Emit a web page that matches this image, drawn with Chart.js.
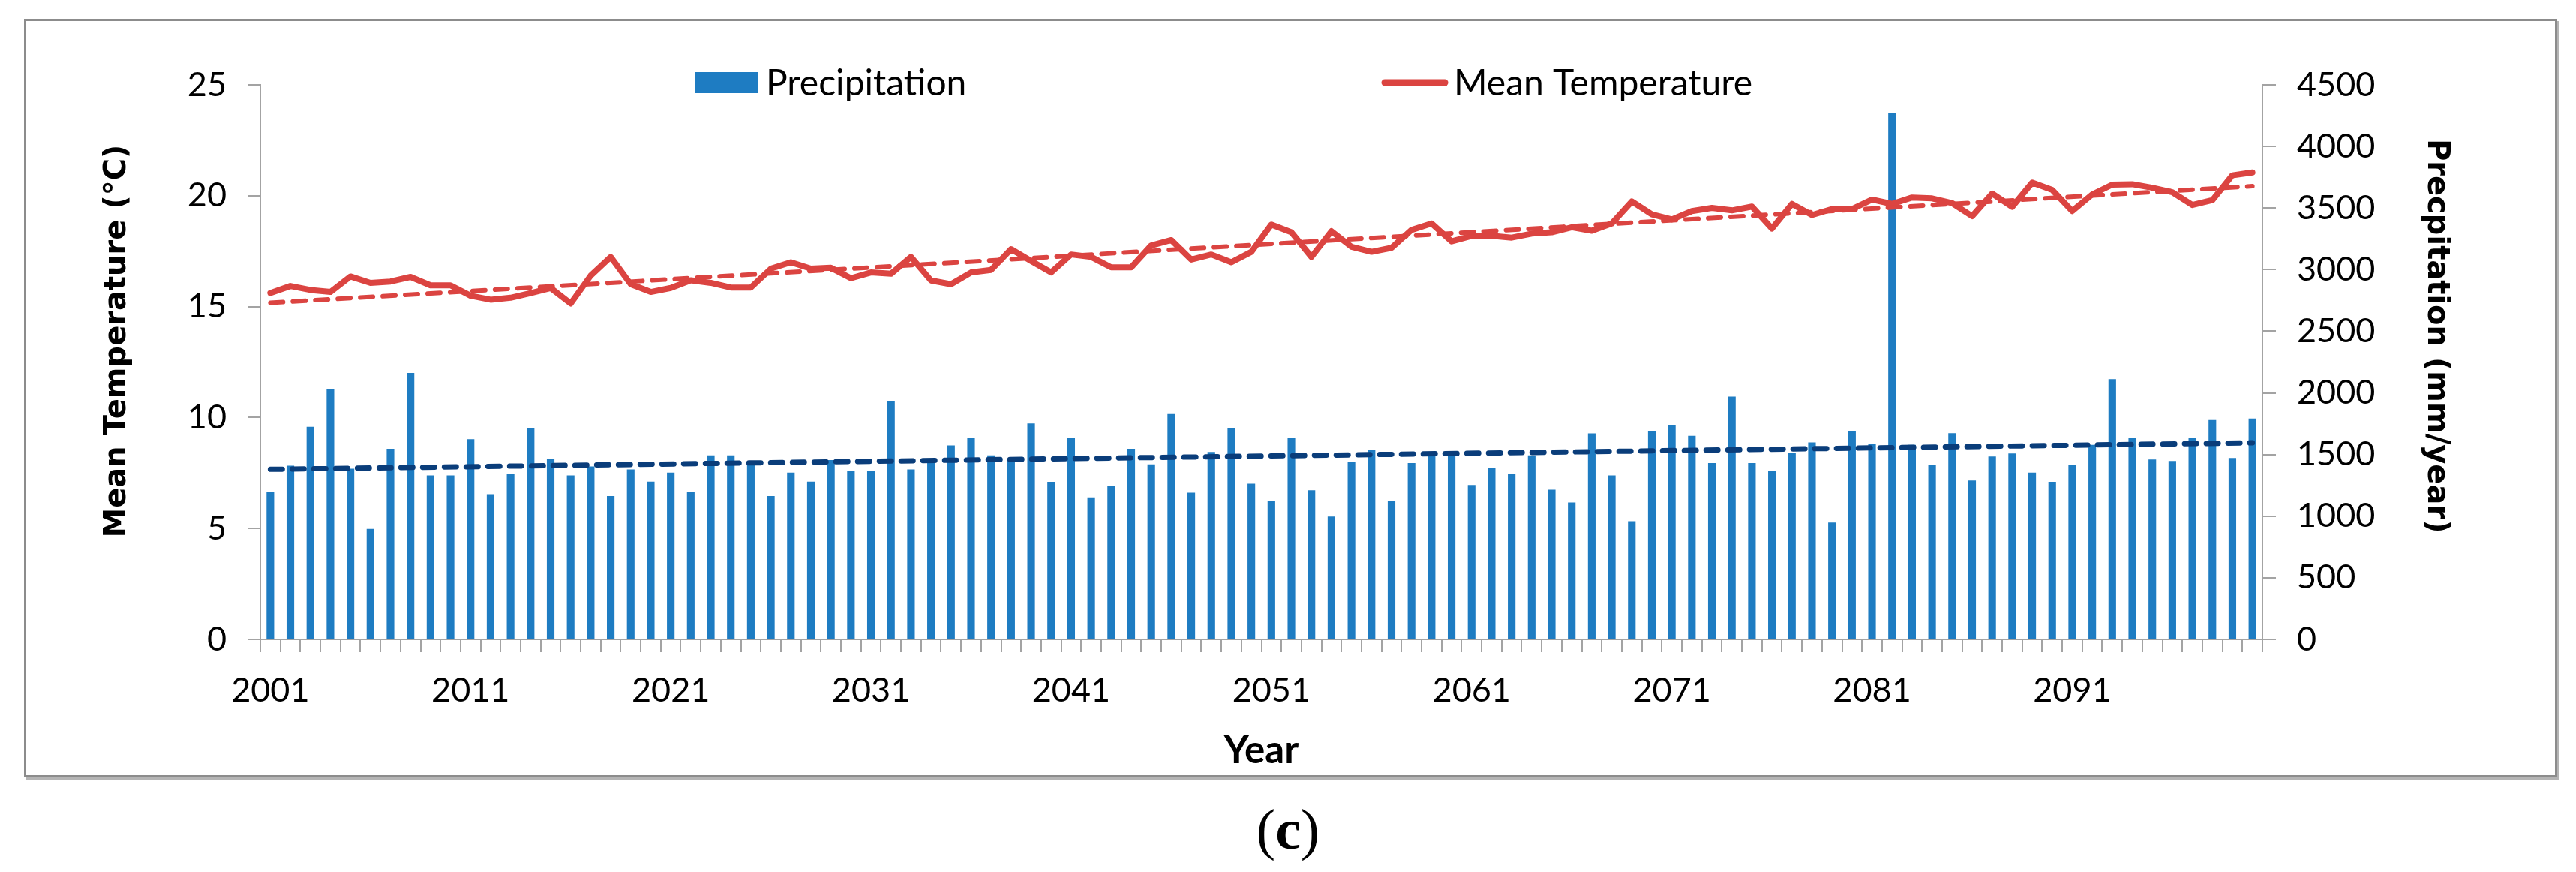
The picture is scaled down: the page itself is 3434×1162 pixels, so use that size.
<!DOCTYPE html>
<html>
<head>
<meta charset="utf-8">
<script src="https://cdn.jsdelivr.net/npm/chart.js@4.4.1/dist/chart.umd.min.js"></script>
<style>
  html, body { margin: 0; padding: 0; background: #fff; width: 3434px; height: 1162px; overflow: hidden; }
  #frame { position: absolute; left: 32px; top: 25px; width: 3371px; height: 1005px; border: 3px solid #8c8c8c; box-shadow: 2px 3px 0 #b4b4b4; }
  #c { position: absolute; left: 0; top: 0; }
  #cap { position: absolute; left: 0; top: 1060px; width: 3434px; text-align: center; font-family: 'Liberation Serif', 'Times New Roman', serif; font-size: 76px; line-height: 90px; color: #000; }
  #cap b { font-weight: bold; }
</style>
</head>
<body>
<div id="frame"></div>
<canvas id="c" width="3434" height="1162"></canvas>
<div id="cap">(<b>c</b>)</div>
<script>
// ---- data ----
const years = Array.from({ length: 100 }, (_, i) => String(2001 + i));

const precipitation = [
  1200, 1410, 1725, 2033, 1385, 896, 1546, 2161, 1330, 1330,
  1624, 1179, 1341, 1714, 1462, 1330, 1403, 1163, 1379, 1280,
  1353, 1200, 1494, 1494, 1437, 1163, 1353, 1280, 1456, 1368,
  1368, 1934, 1379, 1431, 1574, 1636, 1494, 1462, 1752, 1278,
  1636, 1152, 1242, 1546, 1420, 1829, 1190, 1521, 1714, 1263,
  1127, 1636, 1211, 997, 1441, 1540, 1127, 1431, 1500, 1515,
  1253, 1395, 1341, 1494, 1215, 1112, 1672, 1330, 959, 1689,
  1739, 1651, 1431, 1970, 1431, 1368, 1515, 1599, 949, 1689,
  1588, 4275, 1578, 1419, 1673, 1290, 1484, 1508, 1354, 1278,
  1418, 1579, 2112, 1638, 1460, 1448, 1638, 1780, 1472, 1792
];

const meanTemperature = [
  15.61, 15.93, 15.75, 15.66, 16.36, 16.07, 16.13, 16.34, 15.96, 15.96,
  15.49, 15.31, 15.40, 15.61, 15.84, 15.14, 16.40, 17.24, 16.01, 15.66,
  15.84, 16.19, 16.07, 15.86, 15.86, 16.71, 17.00, 16.71, 16.75, 16.28,
  16.54, 16.48, 17.24, 16.18, 16.01, 16.54, 16.65, 17.59, 17.06, 16.54,
  17.35, 17.24, 16.77, 16.77, 17.76, 18.00, 17.12, 17.35, 17.00, 17.47,
  18.70, 18.35, 17.24, 18.40, 17.70, 17.47, 17.65, 18.46, 18.75, 17.94,
  18.19, 18.19, 18.11, 18.29, 18.35, 18.58, 18.42, 18.75, 19.74, 19.16,
  18.93, 19.31, 19.45, 19.34, 19.51, 18.52, 19.63, 19.13, 19.40, 19.40,
  19.83, 19.63, 19.92, 19.88, 19.67, 19.08, 20.10, 19.50, 20.59, 20.26,
  19.31, 20.06, 20.50, 20.52, 20.36, 20.16, 19.58, 19.80, 20.92, 21.05
];

// linear trend lines, read at first and last year
const tempTrend = [15.17, 20.43];
const precipTrend = [1380, 1595];

const tempAxis = { min: 0, max: 25, step: 5 };
const precipAxis = { min: 0, max: 4500, step: 500 };

const seriesLabels = ['Precipitation', 'Mean Temperature'];
const axisTitles = { x: 'Year', y: 'Mean Temperature (°C)', y1: 'Precpitation (mm/year)' };

// ---- styles ----
const BLUE = '#1e7cc2';
const RED = '#db4441';
const NAVY = '#0a3d7a';
const AXIS = '#a3a3a3';
const TICK_FONT = { family: 'Lato', size: 45 };
const TITLE_FONT = { family: 'DejaVu Sans', size: 40, weight: 'bold' };

const legendPlugin = {
  id: 'topLegend',
  afterDraw(chart) {
    const ctx = chart.ctx;
    ctx.save();
    ctx.font = '48px Lato';
    ctx.textBaseline = 'middle';
    ctx.textAlign = 'left';
    ctx.fillStyle = BLUE;
    ctx.fillRect(927, 96, 83, 28);
    ctx.fillStyle = '#000';
    ctx.fillText(seriesLabels[0], 1021, 112);
    ctx.strokeStyle = RED;
    ctx.lineWidth = 9;
    ctx.lineCap = 'round';
    ctx.beginPath();
    ctx.moveTo(1846, 110);
    ctx.lineTo(1926, 110);
    ctx.stroke();
    ctx.fillText(seriesLabels[1], 1938, 112);
    ctx.restore();
  }
};

new Chart(document.getElementById('c'), {
  data: {
    labels: years,
    datasets: [
      {
        type: 'bar',
        label: seriesLabels[0],
        data: precipitation,
        yAxisID: 'y1',
        backgroundColor: BLUE,
        borderWidth: 0,
        categoryPercentage: 1.0,
        barPercentage: 0.38,
        order: 3
      },
      {
        type: 'line',
        label: 'Precipitation trend',
        data: [{ x: years[0], y: precipTrend[0] }, { x: years[years.length - 1], y: precipTrend[1] }],
        yAxisID: 'y1',
        borderColor: NAVY,
        borderWidth: 7,
        borderDash: [16, 13],
        borderCapStyle: 'round',
        pointRadius: 0,
        fill: false,
        order: 2
      },
      {
        type: 'line',
        label: seriesLabels[1],
        data: meanTemperature,
        yAxisID: 'y',
        borderColor: RED,
        borderWidth: 8,
        borderJoinStyle: 'round',
        borderCapStyle: 'round',
        pointRadius: 0,
        tension: 0,
        fill: false,
        order: 1
      },
      {
        type: 'line',
        label: 'Temperature trend',
        data: [{ x: years[0], y: tempTrend[0] }, { x: years[years.length - 1], y: tempTrend[1] }],
        yAxisID: 'y',
        borderColor: RED,
        borderWidth: 6,
        borderDash: [17, 13],
        borderCapStyle: 'round',
        pointRadius: 0,
        fill: false,
        order: 0
      }
    ]
  },
  options: {
    responsive: false,
    devicePixelRatio: 1,
    animation: false,
    layout: { padding: { left: 133, right: 163, top: 113, bottom: 131 } },
    plugins: { legend: { display: false }, tooltip: { enabled: false } },
    scales: {
      x: {
        type: 'category',
        offset: true,
        grid: { display: true, offset: true, drawOnChartArea: false, drawTicks: true, tickLength: 17, color: AXIS, lineWidth: 2 },
        border: { display: true, color: AXIS, width: 2 },
        ticks: {
          autoSkip: false,
          maxRotation: 0,
          minRotation: 0,
          padding: 24,
          color: '#000',
          font: TICK_FONT,
          callback: function (value, index) { return index % 10 === 0 ? this.getLabelForValue(value) : ''; }
        },
        title: { display: true, text: axisTitles.x, color: '#000', font: { family: 'Lato', size: 51, weight: 'bold' }, padding: 0 },
        afterFit(scale) { scale.height = 179; }
      },
      y: {
        position: 'left',
        min: tempAxis.min,
        max: tempAxis.max,
        grid: { display: true, drawOnChartArea: false, drawTicks: true, tickLength: 16, color: AXIS, lineWidth: 2 },
        border: { display: true, color: AXIS, width: 2 },
        ticks: { stepSize: tempAxis.step, padding: 29, color: '#000', font: TICK_FONT, callback: v => String(v) },
        title: { display: true, text: '    ' + axisTitles.y, color: '#000', font: TITLE_FONT, padding: 0 },
        afterFit(scale) { scale.width = 214; }
      },
      y1: {
        position: 'right',
        min: precipAxis.min,
        max: precipAxis.max,
        grid: { display: true, drawOnChartArea: false, drawTicks: true, tickLength: 18, color: AXIS, lineWidth: 2 },
        border: { display: true, color: AXIS, width: 2 },
        ticks: { stepSize: precipAxis.step, padding: 28, color: '#000', font: TICK_FONT, callback: v => String(v) },
        title: { display: true, text: axisTitles.y1 + '     ', color: '#000', font: TITLE_FONT, padding: 0 },
        afterFit(scale) { scale.width = 255; }
      }
    }
  },
  plugins: [legendPlugin]
});
</script>
</body>
</html>
